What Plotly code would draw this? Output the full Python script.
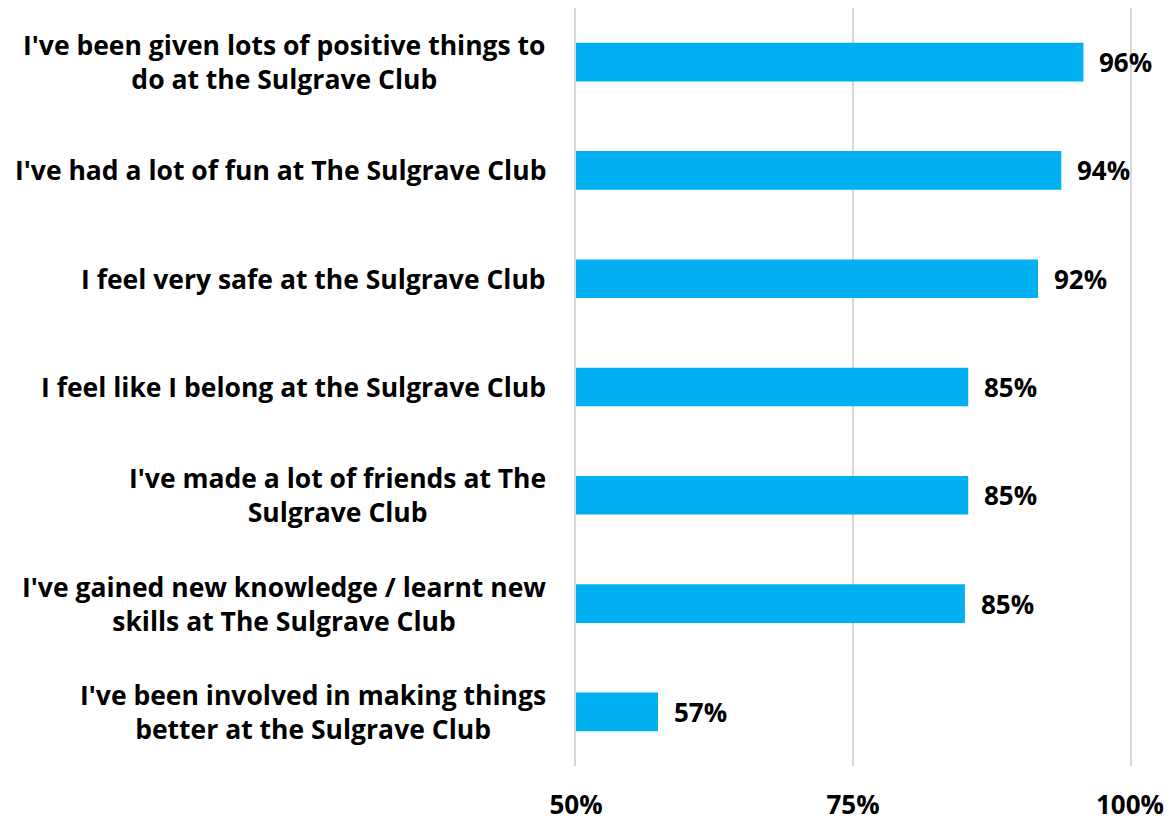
import plotly.graph_objects as go

categories = [
    "I've been given lots of positive things to<br>do at the Sulgrave Club",
    "I've had a lot of fun at The Sulgrave Club",
    "I feel very safe at the Sulgrave Club",
    "I feel like I belong at the Sulgrave Club",
    "I've made a lot of friends at The<br>Sulgrave Club",
    "I've gained new knowledge / learnt new<br>skills at The Sulgrave Club",
    "I've been involved in making things<br>better at the Sulgrave Club",
]
values = [95.8, 93.8, 91.7, 85.4, 85.4, 85.1, 57.4]
tick_vals = [50, 75, 100]
tick_text = ["50%", "75%", "100%"]

FONT = "Open Sans"
BAR_COLOR = "#00B0F0"
GRID = "#D9D9D9"

fig = go.Figure()
fig.add_trace(go.Bar(
    y=categories, x=values, orientation="h",
    marker=dict(color=BAR_COLOR, line=dict(width=0)),
    width=0.357, hoverinfo="skip",
))

annotations = []
for c, v in zip(categories, values):
    annotations.append(dict(
        x=v, y=c, xref="x", yref="y", text=f"<b>{round(v):.0f}%</b>",
        showarrow=False, xanchor="left", yanchor="middle", xshift=14,
        font=dict(family=FONT, size=26, color="#000000"),
    ))
    annotations.append(dict(
        x=0, y=c, xref="paper", yref="y", text=f"<b>{c}</b>",
        showarrow=False, xanchor="right", yanchor="middle", xshift=-28,
        align="center",
        font=dict(family=FONT, size=26.5, color="#000000"),
    ))

fig.update_layout(
    width=1167, height=815,
    margin=dict(l=568, r=45, t=0, b=57, autoexpand=False),
    paper_bgcolor="white", plot_bgcolor="white",
    showlegend=False,
    annotations=annotations,
    xaxis=dict(
        range=[50, 100], tickvals=tick_vals,
        ticktext=[f"<b>{t}</b>" for t in tick_text],
        showgrid=True, gridcolor=GRID, gridwidth=1.5,
        zeroline=False, showline=False, ticks="",
        ticklabelstandoff=21, automargin=False,
        tickfont=dict(family=FONT, size=26, color="#000000"),
        fixedrange=True,
    ),
    yaxis=dict(
        categoryorder="array", categoryarray=categories,
        autorange="reversed", showticklabels=False,
        showgrid=False, zeroline=False, ticks="",
        showline=True, mirror=True, linecolor=GRID, linewidth=1.5,
        automargin=False, fixedrange=True,
    ),
)

fig.write_html("out.html")
